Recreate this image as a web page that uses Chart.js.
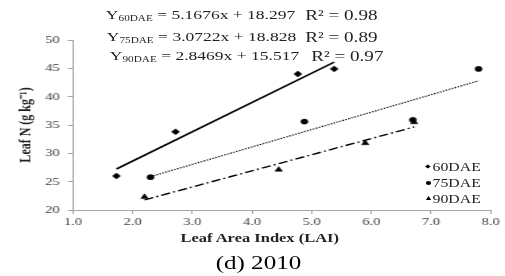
<!DOCTYPE html>
<html>
<head>
<meta charset="utf-8">
<script src="https://cdn.jsdelivr.net/npm/chart.js@4/dist/chart.umd.min.js"></script>
<style>
    html, body { margin: 0; padding: 0; background: #fff; }
    #stage {
        position: absolute; left: 0; top: 0;
        width: 383px; height: 276px;
        transform-origin: 0 0;
        transform: scaleX(1.3185);
        font-family: "Liberation Serif", "Times New Roman", serif;
        color: #222;
    }
    #chart { position: absolute; left: 0; top: 0; }
    .eq { position: absolute; font-size: 13.3px; line-height: 16px; white-space: nowrap; }
    .eq.r2 { font-size: 14.5px; }
    .eq sub { font-size: 8.5px; vertical-align: -2px; line-height: 0; }
    .leg { position: absolute; font-size: 12px; line-height: 14px; white-space: nowrap; }
    .mk { position: absolute; left: -5px; top: 5px; background: #000; }
    .mk.d { width: 3px; height: 3px; transform: rotate(45deg); }
    .mk.c { width: 4px; height: 4px; border-radius: 50%; top: 4.5px; left: -5.5px; }
    .mk.t { width: 0; height: 0; background: none; border-left: 2.5px solid transparent;
            border-right: 2.5px solid transparent; border-bottom: 4.5px solid #000; top: 4px; left: -5.5px; }
    .center { position: absolute; white-space: nowrap; transform: translateX(-50%); }
    #xtitle { left: 197px; top: 231px; font-size: 12.5px; font-weight: bold; }
    #caption { left: 196px; top: 252px; font-size: 19px; color: #000; }
</style>
</head>
<body>
<div id="stage">
    <canvas id="chart" width="383" height="276"></canvas>
    <div id="xtitle" class="center">Leaf Area Index (LAI)</div>
    <div id="caption" class="center">(d) 2010</div>
</div>
<script>
    const seriesNames = ['60DAE', '75DAE', '90DAE'];

    const lai60 = [1.73, 2.72, 4.77, 5.38];
    const leafN60 = [26.0, 33.8, 44.0, 44.9];
    const lai75 = [2.30, 4.88, 6.70, 7.80];
    const leafN75 = [25.8, 35.6, 35.9, 44.9];
    const lai90 = [2.20, 4.45, 5.90, 6.72];
    const leafN90 = [22.3, 27.1, 31.8, 35.5];

    const slopes = [5.1676, 3.0722, 2.8469];
    const intercepts = [18.297, 18.828, 15.517];
    const rSquared = ['0.98', '0.89', '0.97'];

    const xTicks = [1, 2, 3, 4, 5, 6, 7, 8];
    const yTicks = [20, 25, 30, 35, 40, 45, 50];

    const laiSets = [lai60, lai75, lai90];
    const leafNSets = [leafN60, leafN75, leafN90];
    const markers = ['rectRot', 'circle', 'triangle'];
    const markerSizes = [3, 2.6, 3.2];
    const lineDashes = [[], [1.2, 1.2], [7, 2.5, 1.5, 2.5]];
    const lineWidths = [1.6, 1.2, 1.4];
    const legendShapes = ['d', 'c', 't'];

    function points(xs, ys) {
        return xs.map((x, i) => ({ x: x, y: ys[i] }));
    }

    function trend(i) {
        const xs = laiSets[i];
        const lo = Math.min(...xs);
        const hi = Math.max(...xs);
        return [lo, hi].map(x => ({ x: x, y: slopes[i] * x + intercepts[i] }));
    }

    const datasets = [];
    seriesNames.forEach((name, i) => {
        datasets.push({
            label: name + ' fit',
            type: 'line',
            data: trend(i),
            borderColor: '#000',
            borderWidth: lineWidths[i],
            borderDash: lineDashes[i],
            pointRadius: 0,
            fill: false
        });
    });
    seriesNames.forEach((name, i) => {
        datasets.push({
            label: name,
            type: 'scatter',
            data: points(laiSets[i], leafNSets[i]),
            pointStyle: markers[i],
            pointRadius: markerSizes[i],
            pointBackgroundColor: '#000',
            pointBorderColor: '#000',
            pointBorderWidth: 0.5
        });
    });

    const tickFont = { family: '"Liberation Serif", serif', size: 11 };

    new Chart(document.getElementById('chart'), {
        type: 'scatter',
        data: { datasets: datasets },
        options: {
            responsive: false,
            animation: false,
            devicePixelRatio: 1,
            layout: { padding: { left: 0, right: 11, top: 40, bottom: 29 } },
            plugins: { legend: { display: false }, tooltip: { enabled: false } },
            scales: {
                x: {
                    type: 'linear',
                    min: xTicks[0],
                    max: xTicks[xTicks.length - 1],
                    afterBuildTicks: s => { s.ticks = xTicks.map(v => ({ value: v })); },
                    afterFit: s => { s.height = 37; },
                    border: { color: '#a6a6a6', width: 1 },
                    grid: { drawOnChartArea: false, color: '#a6a6a6', tickLength: 4 },
                    ticks: { color: '#404040', font: tickFont, padding: 2, callback: v => Number(v).toFixed(1) }
                },
                y: {
                    min: yTicks[0],
                    max: yTicks[yTicks.length - 1],
                    afterBuildTicks: s => { s.ticks = yTicks.map(v => ({ value: v })); },
                    afterFit: s => { s.width = 55.3; },
                    border: { color: '#a6a6a6', width: 1 },
                    grid: { drawOnChartArea: false, color: '#a6a6a6', tickLength: 4 },
                    ticks: { color: '#404040', font: tickFont, padding: 6 },
                    title: {
                        display: true,
                        text: 'Leaf N (g kg\u207B\u00B9)',
                        color: '#222',
                        padding: { top: 13, bottom: 0 },
                        font: { family: '"Liberation Serif", serif', size: 12, weight: 'bold' }
                    }
                }
            }
        }
    });

    // equations and legend sit over the canvas as html text
    const stage = document.getElementById('stage');
    const eqLeft = [80.3, 81, 83.3];
    const eqTop = [7, 29, 48];
    const r2Left = [231.5, 231.5, 236];
    seriesNames.forEach((name, i) => {
        const eq = document.createElement('div');
        eq.className = 'eq';
        eq.style.left = eqLeft[i] + 'px';
        eq.style.top = eqTop[i] + 'px';
        eq.innerHTML = 'Y<sub>' + name + '</sub> = ' + slopes[i].toFixed(4) + 'x + ' + intercepts[i].toFixed(3);
        stage.appendChild(eq);

        const r2 = document.createElement('div');
        r2.className = 'eq r2';
        r2.style.left = r2Left[i] + 'px';
        r2.style.top = (eqTop[i] - 0.5) + 'px';
        r2.textContent = 'R\u00B2 = ' + rSquared[i];
        stage.appendChild(r2);

        const leg = document.createElement('div');
        leg.className = 'leg';
        leg.style.left = '328px';
        leg.style.top = (160 + i * 16) + 'px';
        leg.innerHTML = '<span class="mk ' + legendShapes[i] + '"></span>' + name;
        stage.appendChild(leg);
    });
</script>
</body>
</html>
